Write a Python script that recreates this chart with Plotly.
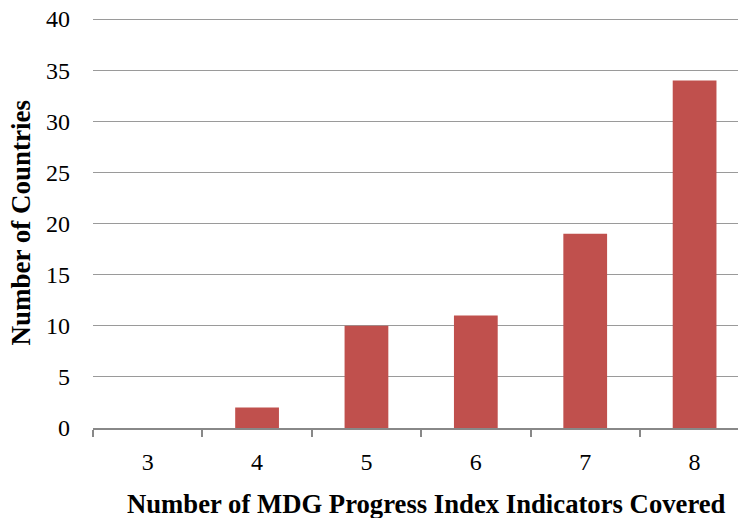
import plotly.graph_objects as go

categories = ["3", "4", "5", "6", "7", "8"]
countries = [0, 2, 10, 11, 19, 34]
y_ticks = [0, 5, 10, 15, 20, 25, 30, 35, 40]
x_title = "Number of MDG Progress Index Indicators Covered"
y_title = "Number of Countries"

fig = go.Figure(go.Bar(
    x=categories, y=countries,
    marker=dict(color="#C0504D", line=dict(width=0)),
    width=0.4,
))

font = "Liberation Serif, Times New Roman, serif"
fig.update_layout(
    width=746, height=518,
    margin=dict(l=85, r=8, t=9, b=98),
    paper_bgcolor="white", plot_bgcolor="white",
    font=dict(family=font, color="black"),
    showlegend=False,
    bargap=0.6,
)
fig.update_xaxes(
    type="category",
    automargin=False,
    range=[-0.5, 5.47],
    tickson="boundaries",
    ticks="outside", ticklen=7, tickcolor="#888888", tickwidth=1.5,
    showline=True, linecolor="#888888", linewidth=1.5,
    showgrid=False,
    tickfont=dict(size=24, family=font),
    ticklabelstandoff=11,
)
fig.update_yaxes(
    automargin=False,
    range=[0, 40.2],
    tickvals=y_ticks,
    ticklabeloverflow="allow",
    showgrid=True, gridcolor="#9a9a9a", gridwidth=1.3,
    zeroline=False,
    showline=False,
    ticks="",
    tickfont=dict(size=24, family=font),
    ticklabelstandoff=22,
)
fig.add_annotation(
    text="<b>" + x_title + "</b>", xref="paper", yref="paper",
    x=0.511, y=-0.1837, xanchor="center", yanchor="middle",
    showarrow=False, font=dict(size=26.7, family=font, color="black"),
)
fig.add_annotation(
    text="<b>" + y_title + "</b>", xref="paper", yref="paper",
    x=-0.1103, y=0.5, xanchor="center", yanchor="middle", textangle=-90,
    showarrow=False, font=dict(size=27, family=font, color="black"),
)
fig.write_html("out.html")
